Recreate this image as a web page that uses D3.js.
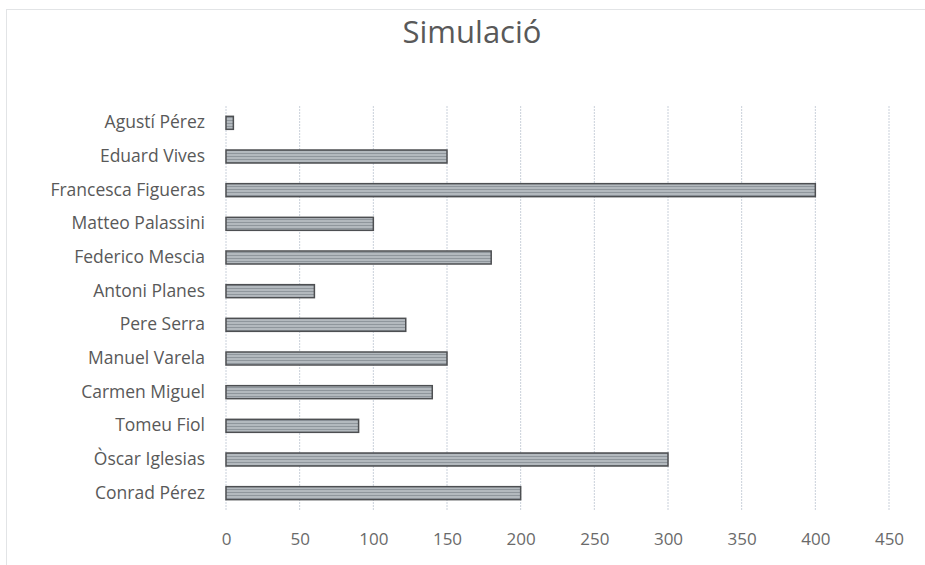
<!DOCTYPE html>
<html><head><meta charset="utf-8">
<script src="https://cdn.jsdelivr.net/npm/d3@7"></script>
<style>body{margin:0;background:#fff;}svg{display:block;}</style>
</head><body>
<script>
const categories = ["Agustí Pérez","Eduard Vives","Francesca Figueras","Matteo Palassini","Federico Mescia","Antoni Planes","Pere Serra","Manuel Varela","Carmen Miguel","Tomeu Fiol","Òscar Iglesias","Conrad Pérez "];
const values = [5,150,400,100,180,60,122,150,140,90,300,200];
const ticks = [0,50,100,150,200,250,300,350,400,450];
const title = "Simulació";

const W=925,H=565;
const svg=d3.select("body").append("svg").attr("width",W).attr("height",H);
const font="'Open Sans', sans-serif";
const defs=svg.append("defs");
const pat=defs.append("pattern").attr("id","stripe").attr("patternUnits","userSpaceOnUse").attr("width",4).attr("height",3);
pat.append("rect").attr("width",4).attr("height",3).attr("fill","#b3b9be");
pat.append("rect").attr("width",4).attr("height",1).attr("fill","#8f969c");

svg.append("rect").attr("x",6.5).attr("y",9.5).attr("width",930).attr("height",600)
  .attr("fill","none").attr("stroke","#c4c8cc").attr("stroke-dasharray","1,1");

const x=d3.scaleLinear().domain([0,450]).range([226,889]);
const y=d3.scaleBand().domain(categories).range([106,510]).paddingInner(0.6).paddingOuter(0.3);

svg.append("text").attr("x",472).attr("y",43).attr("text-anchor","middle")
  .attr("font-family",font).attr("font-size",31).attr("fill","#595959").text(title);

const g=svg.append("g");
g.selectAll("line.grid").data(ticks).join("line").attr("class","grid")
  .attr("x1",d=>x(d)).attr("x2",d=>x(d)).attr("y1",106).attr("y2",510)
  .attr("stroke","#c9d0da").attr("stroke-width",1).attr("stroke-dasharray","2,1");

const xa=d3.axisBottom(x).tickValues(ticks).tickSize(0).tickPadding(0);
const ax=svg.append("g").attr("transform","translate(0,539)").call(xa);
ax.select(".domain").remove();
ax.selectAll("text").attr("font-family",font).attr("font-size",17).attr("fill","#6a6a6a").attr("dy","0.35em");

const ya=d3.axisLeft(y).tickSize(0).tickPadding(21);
const ay=svg.append("g").attr("transform","translate(226,0)").call(ya);
ay.select(".domain").remove();
ay.selectAll("text").attr("font-family",font).attr("font-size",17.5).attr("fill","#595959");

g.selectAll("rect.bar").data(values).join("rect").attr("class","bar")
  .attr("x",x(0)).attr("y",(d,i)=>y(categories[i])+y.bandwidth()/2-6.5)
  .attr("width",d=>x(d)-x(0)).attr("height",13)
  .attr("fill","url(#stripe)").attr("stroke","#4d4f52").attr("stroke-width",1.5);
</script>
</body></html>
